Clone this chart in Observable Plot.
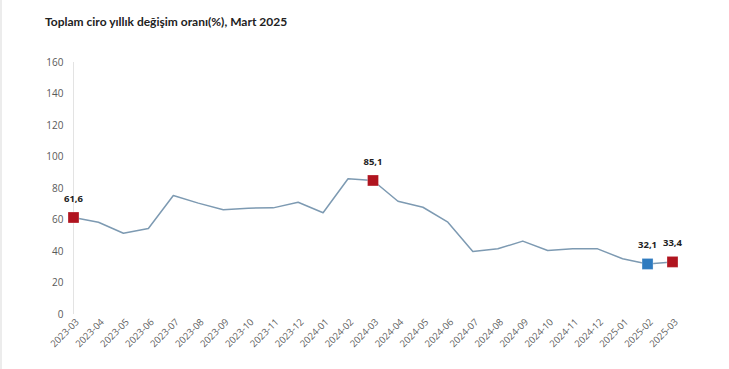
<!DOCTYPE html>
<html>
<head>
<meta charset="utf-8">
<script src="https://cdn.jsdelivr.net/npm/d3@7"></script>
<script src="https://cdn.jsdelivr.net/npm/@observablehq/plot@0.6"></script>
<style>
  html, body { margin: 0; padding: 0; background: #fff; }
  #wrap { width: 729px; height: 369px; position: relative; overflow: hidden; }
  #edge { position: absolute; left: 0; top: 0; width: 2px; height: 369px; background: #ececec; }
  #title { position: absolute; left: 45px; top: 14px; font-family: Lato, "Open Sans", sans-serif; font-weight: 700; font-size: 12px; color: #222; white-space: nowrap; }
  #chart { position: absolute; left: 0; top: 40px; width: 729px; height: 329px; }
  #chart svg { max-width: none !important; }
</style>
</head>
<body>
<div id="wrap">
  <div id="edge"></div>
  <div id="title">Toplam ciro yıllık değişim oranı(%), Mart 2025</div>
  <div id="chart"></div>
</div>
<script>
const months = ["2023-03","2023-04","2023-05","2023-06","2023-07","2023-08","2023-09","2023-10","2023-11","2023-12",
  "2024-01","2024-02","2024-03","2024-04","2024-05","2024-06","2024-07","2024-08","2024-09","2024-10","2024-11","2024-12",
  "2025-01","2025-02","2025-03"];
const values = [61.6,58.6,51.6,54.6,75.6,70.7,66.5,67.5,67.7,71.3,64.6,86.2,85.1,71.9,68.1,58.6,40.0,41.7,46.6,40.6,41.7,41.7,35.4,32.1,33.4];
const highlightMonths = ["2023-03","2024-03","2025-02","2025-03"];
const highlightColors = ["#b0141f","#b0141f","#2f7bbf","#b0141f"];
const yTicks = [0,20,40,60,80,100,120,140,160];

const data = months.map((m, i) => ({month: m, value: values[i]}));
const hl = highlightMonths.map((m, i) => ({month: m, value: values[months.indexOf(m)], color: highlightColors[i], label: values[months.indexOf(m)].toFixed(1).replace(".", ",")}));

const chart = Plot.plot({
  width: 729,
  height: 329,
  marginTop: 22,
  marginBottom: 55,
  marginLeft: 73,
  marginRight: 57,
  style: {fontFamily: "'Open Sans', 'Noto Sans', sans-serif", fontSize: "10px", color: "#595959", background: "transparent", maxWidth: "none"},
  x: {type: "point", domain: months, padding: 0, round: false, label: null},
  y: {domain: [0, 160], label: null},
  marks: [
    Plot.axisY({ticks: yTicks, tickSize: 0, tickPadding: 10, fontSize: 10, fill: "#595959", label: null}),
    Plot.axisX({tickSize: 0, tickRotate: -45, tickPadding: 6, dx: 4, fontSize: 9.5, fill: "#5f5f5f", label: null}),
    Plot.ruleX([months[0]], {y1: 0, y2: 160, stroke: "#e3e3e3", strokeWidth: 1}),
    Plot.ruleY([0], {x1: months[0], x2: months[months.length - 1], stroke: "#dadada", strokeWidth: 1}),
    Plot.line(data, {x: "month", y: "value", stroke: "#7d9ab2", strokeWidth: 1.5}),
    Plot.dot(hl, {x: "month", y: "value", symbol: "square", r: 6.2, fill: "color", stroke: "#ffffff", strokeOpacity: 0.35, strokeWidth: 0.8}),
    Plot.text(hl, {x: "month", y: "value", text: "label", dy: -19, fontWeight: "bold", fontSize: 9.5, fill: "#222"})
  ]
});
document.getElementById("chart").appendChild(chart);
</script>
</body>
</html>
